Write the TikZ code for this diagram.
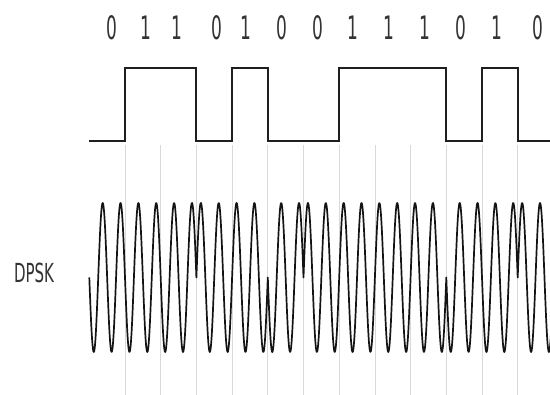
\documentclass[tikz,border=0pt]{standalone}
\usepackage{fontspec}
\setmainfont{DejaVu Sans}
\newcommand\tallbit[1]{\scalebox{1}[1.9]{#1}}
\newcommand\talltag[1]{\scalebox{1}[1.75]{#1}}
\begin{document}
\begin{tikzpicture}[x=1pt,y=1pt,
  bitlabel/.style={font=\fontsize{17}{17}\selectfont, text=black!80, inner sep=0pt},
  taglabel/.style={font=\fontsize{15}{15}\selectfont, text=black!80, inner sep=0pt},
  gridline/.style={draw=black!15, line width=0.8pt},
  square/.style={draw=black!88, line width=2pt, line join=miter},
  carrier/.style={draw=black!92, line width=1.7pt, line join=round}]
\useasboundingbox (0,0) rectangle (550,395);
% bit boundary guide lines
\foreach \k in {0,...,11}{
  \draw[gridline] ({125+35.7*\k},0) -- ({125+35.7*\k},250);
}
% bit labels
\foreach \xx/\b [count=\i] in {112/0,146/1,177/1,217/0,246/1,282/0,318/0,353/1,389/1,425/1,461/0,497/1,538/0}{
  \node[bitlabel] (bit\i) at (\xx,367) {\tallbit{\b}};
}
% data square wave
\draw[square] (89,253.5) -- (125,253.5) -- (125,327) -- (196.4,327) -- (196.4,253.5)
  -- (232.1,253.5) -- (232.1,327) -- (267.8,327) -- (267.8,253.5)
  -- (339.2,253.5) -- (339.2,327) -- (446.3,327) -- (446.3,253.5)
  -- (482,253.5) -- (482,327) -- (517.7,327) -- (517.7,253.5) -- (552,253.5);
% label
\node[taglabel] (dpsk) at (34,122) {\talltag{DPSK}};
% DPSK carrier
\draw[carrier]
  plot[domain=89.3:196.4, samples=320] (\x, {117.5 - 74.5*sin(720*((\x-89.3)/35.7))})
  -- plot[domain=196.4:267.8, samples=220] (\x, {117.5 + 74.5*sin(720*((\x-89.3)/35.7))})
  -- plot[domain=267.8:303.5, samples=120] (\x, {117.5 - 74.5*sin(720*((\x-89.3)/35.7))})
  -- plot[domain=303.5:446.3, samples=420] (\x, {117.5 + 74.5*sin(720*((\x-89.3)/35.7))})
  -- plot[domain=446.3:517.7, samples=220] (\x, {117.5 - 74.5*sin(720*((\x-89.3)/35.7))})
  -- plot[domain=517.7:551, samples=110] (\x, {117.5 + 74.5*sin(720*((\x-89.3)/35.7))});
\end{tikzpicture}
\end{document}
